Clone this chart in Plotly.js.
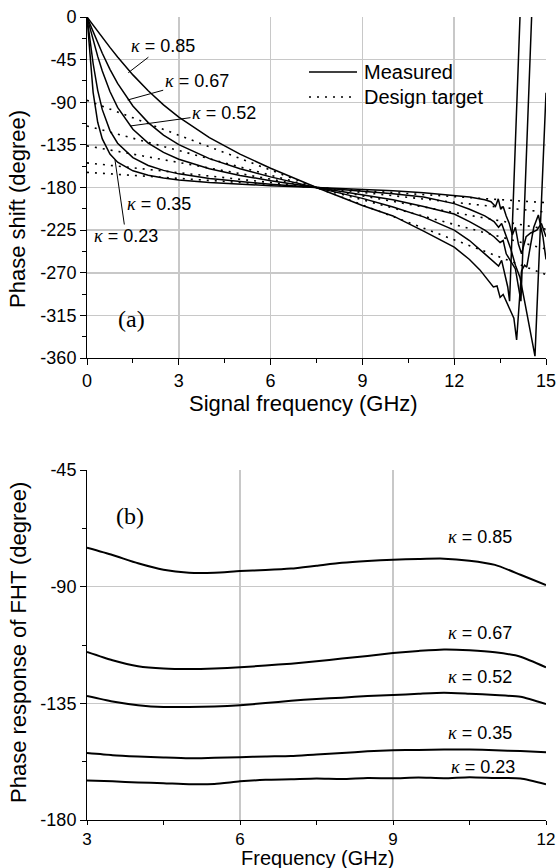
<!DOCTYPE html>
<html><head><meta charset="utf-8">
<script src="https://cdn.plot.ly/plotly-3.0.1.min.js"></script>
<style>html,body{margin:0;padding:0;background:#fff;} #chart{width:557px;height:868px;}</style>
</head><body><div id="chart"></div>
<script>
// ---------- (a) phase shift of ring ----------
const kappaLabels = ['0.85', '0.67', '0.52', '0.35', '0.23'];
const freqA = [0, 0.1, 0.2, 0.35, 0.5, 0.75, 1, 1.5, 2, 2.5, 3, 4, 5, 6, 7.5, 9, 10, 11, 12];

const meas085 = [0, -4.4, -8.7, -15.2, -21.6, -32.1, -42.2, -61.1, -77.9, -92.7, -105.7, -127.3, -144.7, -159.7, -180, -199, -210, -226, -243];
const meas067 = [0, -7.9, -15.8, -27.3, -38.3, -55.2, -70.1, -94, -111.5, -124.6, -134.7, -149.5, -160.2, -168.8, -180, -191.5, -200.5, -211, -225];
const meas052 = [0, -12.4, -24.5, -41.6, -57.1, -78.7, -95.4, -118.5, -133.1, -143, -150.2, -160.3, -167.3, -172.8, -180, -187.5, -193, -200, -208];
const meas035 = [0, -25.7, -49.1, -77.4, -97.8, -119.9, -133.3, -148.5, -156.7, -161.9, -165.6, -170.6, -173.9, -176.6, -180, -183.5, -186.5, -190, -197];
const meas023 = [0, -45.1, -79.5, -111.1, -128.7, -144.7, -153.3, -162.4, -167.1, -170, -172.1, -174.8, -176.7, -178.1, -180, -182, -183.5, -185.5, -189];

// noisy high-frequency tails (12–15 GHz)
const tailF085 = [12.5, 12.84, 13.1, 13.28, 13.4, 13.5, 13.6, 13.72, 13.85, 13.95, 14.04, 14.12, 14.2, 14.3, 14.37, 14.5, 14.6, 14.75, 14.9, 15];
const tailY085 = [-256, -267, -277, -285, -284, -296, -293, -302, -310, -318, -341, -305, -268, -262, -264, -240, -222, -209, -232, -256];
const tailF067 = [12.5, 13, 13.3, 13.45, 13.55, 13.65, 13.75, 13.81, 14.15, 14.3, 15];
const tailY067 = [-236, -250, -259, -263, -257, -270, -285, -300, 0, 80, 80];
const tailF052 = [12.5, 13, 13.3, 13.5, 13.6, 13.7, 13.85, 14.0, 14.1, 14.18, 14.53, 14.7, 15];
const tailY052 = [-216, -225, -232, -238, -236, -250, -258, -266, -285, -300, 0, 80, 80];
const tailF035 = [12.5, 13, 13.3, 13.45, 13.55, 13.7, 13.85, 14.0, 14.15, 14.3, 14.45, 14.64, 14.86, 15];
const tailY035 = [-203, -210, -216, -222, -218, -232, -245, -262, -275, -300, -325, -358, -188, -80];
const tailF023 = [12.5, 13, 13.2, 13.35, 13.44, 13.52, 13.6, 13.7, 13.8, 13.9, 14.0, 14.1, 14.2, 14.35, 14.5, 14.7, 14.85, 15];
const tailY023 = [-190, -193, -195, -200, -192, -203, -200, -210, -218, -230, -222, -240, -250, -232, -228, -225, -218, -232];

// design targets (straight lines through -180 deg at 7.5 GHz)
const designF = [0, 15];
const design085 = [-88, -272];
const design067 = [-115, -245];
const design052 = [-136, -224];
const design035 = [-154, -206];
const design023 = [-164, -196];

// tick labels (plain hyphen minus as in the original)
const ticksAx = [0, 3, 6, 9, 12, 15];
const ticksAxText = ['0', '3', '6', '9', '12', '15'];
const ticksAy = [-360, -315, -270, -225, -180, -135, -90, -45, 0];
const ticksAyText = ['-360', '-315', '-270', '-225', '-180', '-135', '-90', '-45', '0'];
const ticksBx = [3, 6, 9, 12];
const ticksBxText = ['3', '6', '9', '12'];
const ticksBy = [-180, -135, -90, -45];
const ticksByText = ['-180', '-135', '-90', '-45'];

// ---------- (b) phase response of FHT ----------
const freqB = [3, 3.5, 4, 4.5, 5, 5.5, 6, 6.5, 7, 7.5, 8, 8.5, 9, 9.5, 10, 10.5, 11, 11.5, 12];
const fht085 = [-75.0, -77.8, -81.0, -83.5, -84.6, -84.6, -84.0, -83.6, -83.0, -81.9, -80.8, -80.1, -79.6, -79.3, -79.2, -80.0, -81.6, -85.4, -89.4];
const fht067 = [-115.2, -118.4, -120.7, -121.6, -121.8, -121.6, -121.1, -120.4, -119.7, -118.8, -117.7, -116.7, -115.6, -114.8, -114.2, -114.5, -115.3, -117.0, -121.1];
const fht052 = [-132.2, -134.3, -135.7, -136.4, -136.4, -136.2, -135.7, -134.9, -134.0, -133.3, -132.8, -132.2, -131.8, -131.3, -130.9, -131.3, -131.8, -132.5, -135.3];
const fht035 = [-154.2, -155.0, -155.5, -155.9, -156.2, -156.0, -155.8, -155.5, -155.3, -154.7, -154.2, -153.5, -153.1, -153.0, -152.8, -152.8, -153.1, -153.4, -153.9];
const fht023 = [-164.8, -165.1, -165.5, -165.8, -166.2, -166.1, -165.1, -164.5, -164.3, -164.0, -164.2, -163.8, -163.9, -163.6, -163.9, -163.5, -163.8, -164.0, -166.2];

const FONT = '"Liberation Sans", Arial, sans-serif';
const SERIF = '"Liberation Serif", "Times New Roman", serif';

const measured = [[meas085, tailF085, tailY085], [meas067, tailF067, tailY067], [meas052, tailF052, tailY052], [meas035, tailF035, tailY035], [meas023, tailF023, tailY023]];
const designs = [design085, design067, design052, design035, design023];
const fhts = [fht085, fht067, fht052, fht035, fht023];

const traces = [];
designs.forEach((d, i) => traces.push({
  x: designF, y: d, type: 'scatter', mode: 'lines', xaxis: 'x', yaxis: 'y',
  line: {color: '#000', width: 1.6, dash: '2px,6px'}, name: 'Design target κ=' + kappaLabels[i], showlegend: false, hoverinfo: 'skip'
}));
measured.forEach((m, i) => traces.push({
  x: freqA.concat(m[1]), y: m[0].concat(m[2]), type: 'scatter', mode: 'lines', xaxis: 'x', yaxis: 'y',
  line: {color: '#000', width: 1.5}, name: 'Measured κ=' + kappaLabels[i], showlegend: false
}));
fhts.forEach((v, i) => traces.push({
  x: freqB, y: v, type: 'scatter', mode: 'lines', xaxis: 'x2', yaxis: 'y2',
  line: {color: '#000', width: 2, shape: 'spline', smoothing: 0.6}, name: 'FHT κ=' + kappaLabels[i], showlegend: false
}));

const axisCommon = {
  showline: true, linecolor: '#000', linewidth: 1, mirror: false,
  ticks: 'outside', ticklen: 6, tickwidth: 1, tickcolor: '#000',
  showgrid: true, gridcolor: '#c8c8c8', gridwidth: 1.5, zeroline: false,
  tickmode: 'array',
  tickfont: {family: FONT, size: 18, color: '#000'}
};
const minorOf = d => ({dtick: d, ticks: 'outside', ticklen: 4, tickwidth: 1, tickcolor: '#000', showgrid: false});

const W = 459, PH = 803, L = 87, B = 820;
const px = v => (v - L) / W;
const py = v => (B - v) / PH;

const kap = t => '<span style="font-family:' + "'Liberation Serif'" + '"><i>κ</i></span> = ' + t;
const txt = (text, x, y, size, fam, extra) => Object.assign({text: text, xref: 'paper', yref: 'paper', x: px(x), y: py(y), showarrow: false, xanchor: 'center', yanchor: 'middle', font: {family: fam || FONT, size: size, color: '#000'}}, extra || {});
const lead = (t, x, y, ax, ay) => ({text: kap(t), xref: 'x', yref: 'y', x: x, y: y, ax: ax, ay: ay, showarrow: true, arrowhead: 0, arrowwidth: 1, arrowcolor: '#000', standoff: 0, font: {family: FONT, size: 18, color: '#000'}});
const lab = (t, x, y) => ({text: kap(t), xref: 'x2', yref: 'y2', x: x, y: y, showarrow: false, xanchor: 'center', yanchor: 'middle', font: {family: FONT, size: 18, color: '#000'}});

const annotations = [
  txt('Phase shift (degree)', 18, 209, 22, FONT, {textangle: -90}),
  txt('Signal frequency (GHz)', 303, 403, 22),
  txt('Phase response of FHT (degree)', 18, 643, 22, FONT, {textangle: -90}),
  txt('Frequency (GHz)', 317, 858, 20),
  txt('(a)', 131, 319, 24, SERIF),
  txt('(b)', 130, 516, 24, SERIF),
  txt('Measured', 362, 72, 20, FONT, {xanchor: 'left'}),
  txt('Design target', 362, 97, 20, FONT, {xanchor: 'left'}),
  lead('0.85', 1.35, -58.8, 35, -27),
  lead('0.67', 1.33, -87.6, 69, -19),
  lead('0.52', 1.405, -115.1, 94, -13),
  lead('0.35', 1.624, -151, 22, 44),
  lead('0.23', 0.915, -151, 11, 76),
  lab('0.85', 10.71, -70.7),
  lab('0.67', 10.71, -107.9),
  lab('0.52', 10.71, -125.0),
  lab('0.35', 10.71, -146.6),
  lab('0.23', 10.77, -159.6)
];

const shapes = [
  {type: 'line', xref: 'paper', yref: 'paper', x0: px(309), x1: px(357), y0: py(72), y1: py(72), line: {color: '#000', width: 1.5}},
  {type: 'line', xref: 'paper', yref: 'paper', x0: px(309), x1: px(357), y0: py(97), y1: py(97), line: {color: '#000', width: 1.6, dash: '2px,6px'}}
];

const layout = {
  width: 557, height: 868,
  margin: {l: 87, r: 11, t: 17, b: 48},
  paper_bgcolor: '#fff', plot_bgcolor: '#fff',
  showlegend: false,
  font: {family: FONT, color: '#000'},
  xaxis: Object.assign({}, axisCommon, {anchor: 'y', domain: [0, 1], range: [0, 15], tickvals: ticksAx, ticktext: ticksAxText, minor: minorOf(1.5)}),
  yaxis: Object.assign({}, axisCommon, {anchor: 'x', domain: [py(358), 1], range: [-360, 0], tickvals: ticksAy, ticktext: ticksAyText, minor: minorOf(22.5)}),
  xaxis2: Object.assign({}, axisCommon, {anchor: 'y2', domain: [0, 1], range: [3, 12], tickvals: ticksBx, ticktext: ticksBxText, ticklen: 4, tickfont: {family: FONT, size: 17, color: '#000'}, minor: minorOf(1.5)}),
  yaxis2: Object.assign({}, axisCommon, {anchor: 'x2', domain: [0, py(470)], range: [-180, -45], tickvals: ticksBy, ticktext: ticksByText, minor: minorOf(22.5)}),
  annotations: annotations,
  shapes: shapes
};

Plotly.newPlot('chart', traces, layout, {displayModeBar: false, staticPlot: true});
</script></body></html>
